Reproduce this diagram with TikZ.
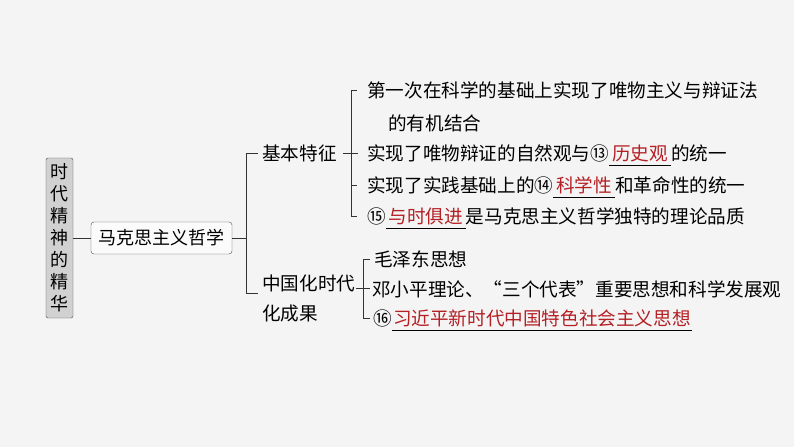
\documentclass[tikz,border=0pt]{standalone}
\usepackage{fontspec}
\setmainfont{Noto Sans CJK SC}
\definecolor{ansred}{HTML}{B52025}
\definecolor{bg}{HTML}{F4F4F4}
\newcommand\ans[2]{\rlap{\rule[-5pt]{#1}{0.6pt}}\makebox[#1]{\color{ansred}#2}}
\begin{document}
\begin{tikzpicture}[x=1pt,y=-1pt,
  txt/.style={inner sep=0pt,anchor=west,font=\fontsize{18.6}{20}\selectfont},
  ln/.style={line width=0.7pt,black!80}]
\fill[bg] (0,0) rectangle (794,447);
\useasboundingbox (0,0) rectangle (794,447);
\node[draw=black!70,fill=black!18,rounded corners=2pt,inner sep=2pt,minimum width=27pt,minimum height=160pt,align=center,font=\fontsize{18}{22}\selectfont] (root) at (59.5,238) {时\\代\\精\\神\\的\\精\\华};
\node[draw=black!70,fill=white!60!bg,rounded corners=3pt,minimum width=141pt,minimum height=32pt,inner sep=2pt,font=\fontsize{18}{20}\selectfont] (mk) at (161.5,238) {马克思主义哲学};
\draw[ln] (root.east) -- (mk.west);
\node[txt] (jb) at (262,153) {基本特征};
\node[txt,align=left,font=\fontsize{18.6}{30}\selectfont] (zg) at (262,298) {中国化时代\\化成果};
\coordinate (b1) at (246,238);
\draw[ln] (mk.east) -- (b1);
\draw[ln] (258,153) -- (246,153) -- (246,293) -- (258,293);
% bracket 2
\draw[ln] (jb.east) ++(6,0) -- (358,153);
\draw[ln] (357,90) -- (351,90) -- (351,216) -- (357,216);
\draw[ln] (351,185) -- (357,185);
\node[txt] (t1) at (367,90) {第一次在科学的基础上实现了唯物主义与辩证法};
\node[txt] (t1b) at (388,123) {的有机结合};
\node[txt] (t2) at (367,155) {实现了唯物辩证的自然观与⑬\ans{62pt}{历史观}的统一};
\node[txt] (t3) at (367,187) {实现了实践基础上的⑭\ans{62pt}{科学性}和革命性的统一};
\node[txt] (t4) at (367,218) {⑮\ans{80pt}{与时俱进}是马克思主义哲学独特的理论品质};
% bracket 3
\draw[ln] (356,288) -- (370,288);
\draw[ln] (370,259) -- (363,259) -- (363,318) -- (370,318);
\node[txt] (s1) at (374,259) {毛泽东思想};
\node[txt] (s2) at (372,289) {邓小平理论、“三个代表”重要思想和科学发展观};
\node[txt] (s3) at (373,320) {⑯\ans{300pt}{习近平新时代中国特色社会主义思想}};
\end{tikzpicture}
\end{document}
